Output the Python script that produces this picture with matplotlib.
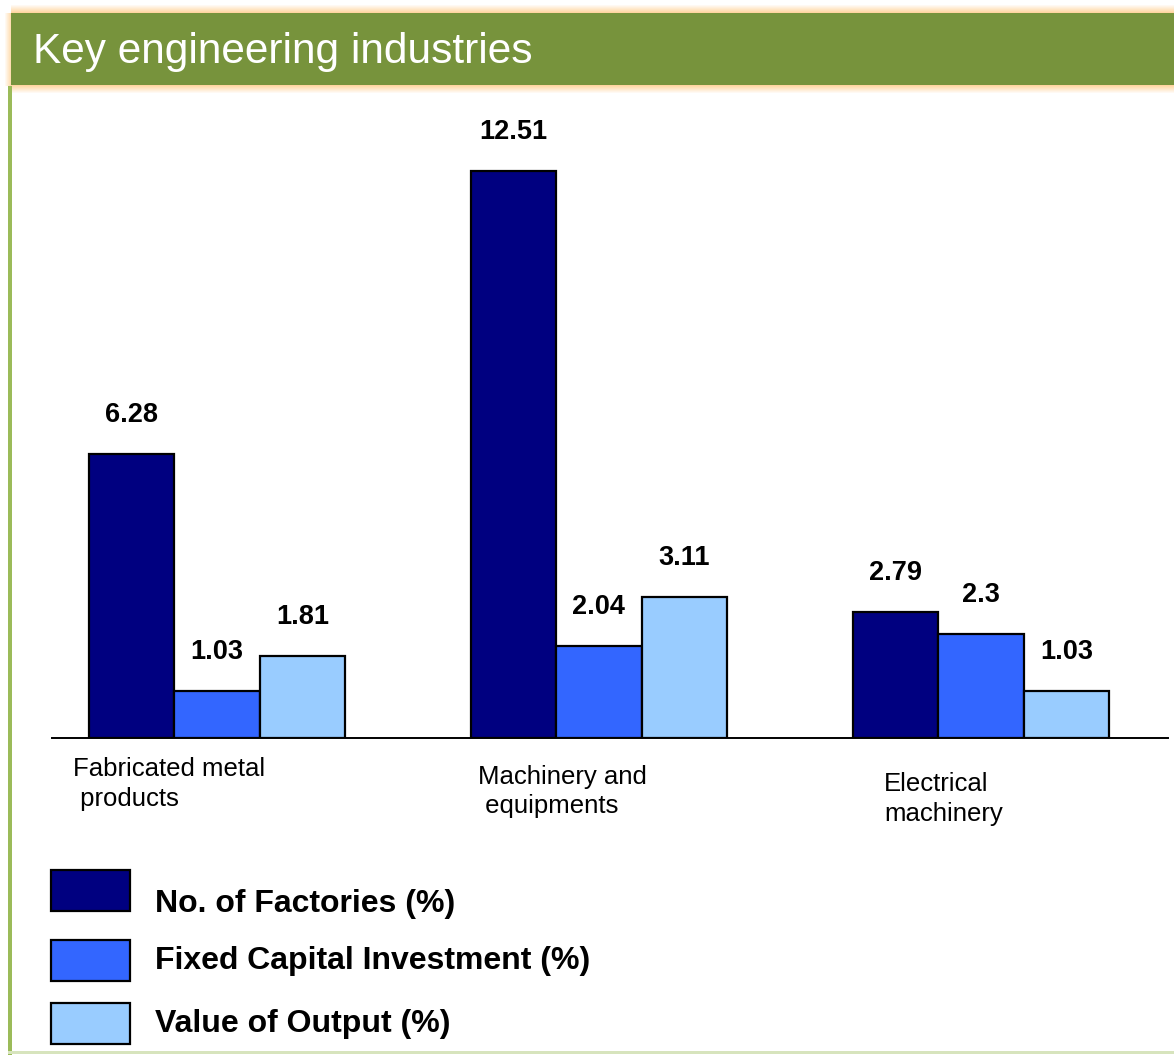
import numpy as np
import matplotlib
matplotlib.use("Agg")
import matplotlib.pyplot as plt
from matplotlib.patches import Rectangle

# === DATA ===
categories = ["Fabricated metal\n products", "Machinery and\n equipments", "Electrical\nmachinery"]
series = ["No. of Factories (%)", "Fixed Capital Investment (%)", "Value of Output (%)"]
factories = [6.28, 12.51, 2.79]
capital = [1.03, 2.04, 2.3]
output = [1.81, 3.11, 1.03]

# === STYLE ===
COLORS = ["#000080", "#3366FF", "#99CCFF"]
TITLE_GREEN = "#77933C"
SIDE_GREEN = "#9BBB59"
W, H = 1174, 1055
BAR_W = 0.224
LABEL_DX = [-0.377, -0.317, -0.254]  # left edge of each category caption
KEY_BOX_TOP = [870, 940, 1003]       # legend swatch tops (px)
KEY_BASELINE = [912, 969, 1032]      # legend text baselines (px)


def px(x0, y0, x1, y1):
    # pixel box (top-left origin) -> figure fraction rect
    return [x0 / W, 1 - y1 / H, (x1 - x0) / W, (y1 - y0) / H]


fig = plt.figure(figsize=(W / 100, H / 100), dpi=100)
fig.patch.set_facecolor("white")

# === TITLE BAR ===
glow = "#FFC880"
for k in range(8):
    a = 0.75 * (1 - k / 8)
    fig.patches.append(Rectangle((11 / W, 1 - (13 - k) / H), 1, 1 / H,
                                 transform=fig.transFigure, color=glow, alpha=a, lw=0))
    fig.patches.append(Rectangle((11 / W, 1 - (86 + k) / H), 1, 1 / H,
                                 transform=fig.transFigure, color=glow, alpha=a, lw=0))
for k in range(6):
    a = 0.6 * (1 - k / 6)
    fig.patches.append(Rectangle(((10 - k) / W, 1 - 86 / H), 1 / W, 73 / H,
                                 transform=fig.transFigure, color=glow, alpha=a, lw=0))
fig.patches.append(Rectangle((11 / W, 1 - 85 / H), 1, 72 / H,
                             transform=fig.transFigure, color=TITLE_GREEN, lw=0))
fig.text(33 / W, 1 - 52 / H, "Key engineering industries", color="white",
         fontsize=30.5, family="Liberation Sans", va="center", ha="left")

# side and bottom rules of the slide panel
fig.patches.append(Rectangle((8 / W, 0), 4 / W, 1 - 86 / H,
                             transform=fig.transFigure, color=SIDE_GREEN, lw=0))
fig.patches.append(Rectangle((8 / W, 1 - 1054 / H), 1, 3 / H,
                             transform=fig.transFigure, color="#D7E4BD", lw=0))

# === BARS ===
ax = fig.add_axes(px(52, 100, 1168, 738))
x = np.arange(len(categories))
values = [factories, capital, output]
for i, (vals, col) in enumerate(zip(values, COLORS)):
    bars = ax.bar(x + (i - 1) * BAR_W, vals, BAR_W, color=col,
                  edgecolor="black", linewidth=1.6, zorder=2)
    for b, v in zip(bars, vals):
        ax.annotate(f"{v:g}", (b.get_x() + b.get_width() / 2, v),
                    xytext=(0, 28), textcoords="offset points",
                    ha="center", va="center", fontsize=19.5, fontweight="bold",
                    family="Liberation Sans")

ax.set_xlim(-0.432, 2.49)
ax.set_ylim(0, 638 / 45.3)
for s in ["top", "right", "left"]:
    ax.spines[s].set_visible(False)
ax.spines["bottom"].set_linewidth(1.4)
ax.spines["bottom"].set_zorder(3)
ax.set_xticks([])
ax.set_yticks([])
ax.patch.set_alpha(0)

for i, (cat, dx) in enumerate(zip(categories, LABEL_DX)):
    ax.text(x[i] + dx, -0.072 - 0.012 * i, cat, transform=ax.get_xaxis_transform(),
            ha="left", va="center", fontsize=18.5, family="Liberation Sans",
            linespacing=1.3)

# === LEGEND ===
for name, col, top, base in zip(series, COLORS, KEY_BOX_TOP, KEY_BASELINE):
    fig.patches.append(Rectangle((51 / W, 1 - (top + 41) / H), 79 / W, 41 / H,
                                 transform=fig.transFigure, facecolor=col,
                                 edgecolor="black", lw=1.6))
    fig.text(155 / W, 1 - base / H, name, fontsize=23, fontweight="bold",
             family="Liberation Sans", va="baseline", ha="left")

fig.savefig("out.png", dpi=100)
